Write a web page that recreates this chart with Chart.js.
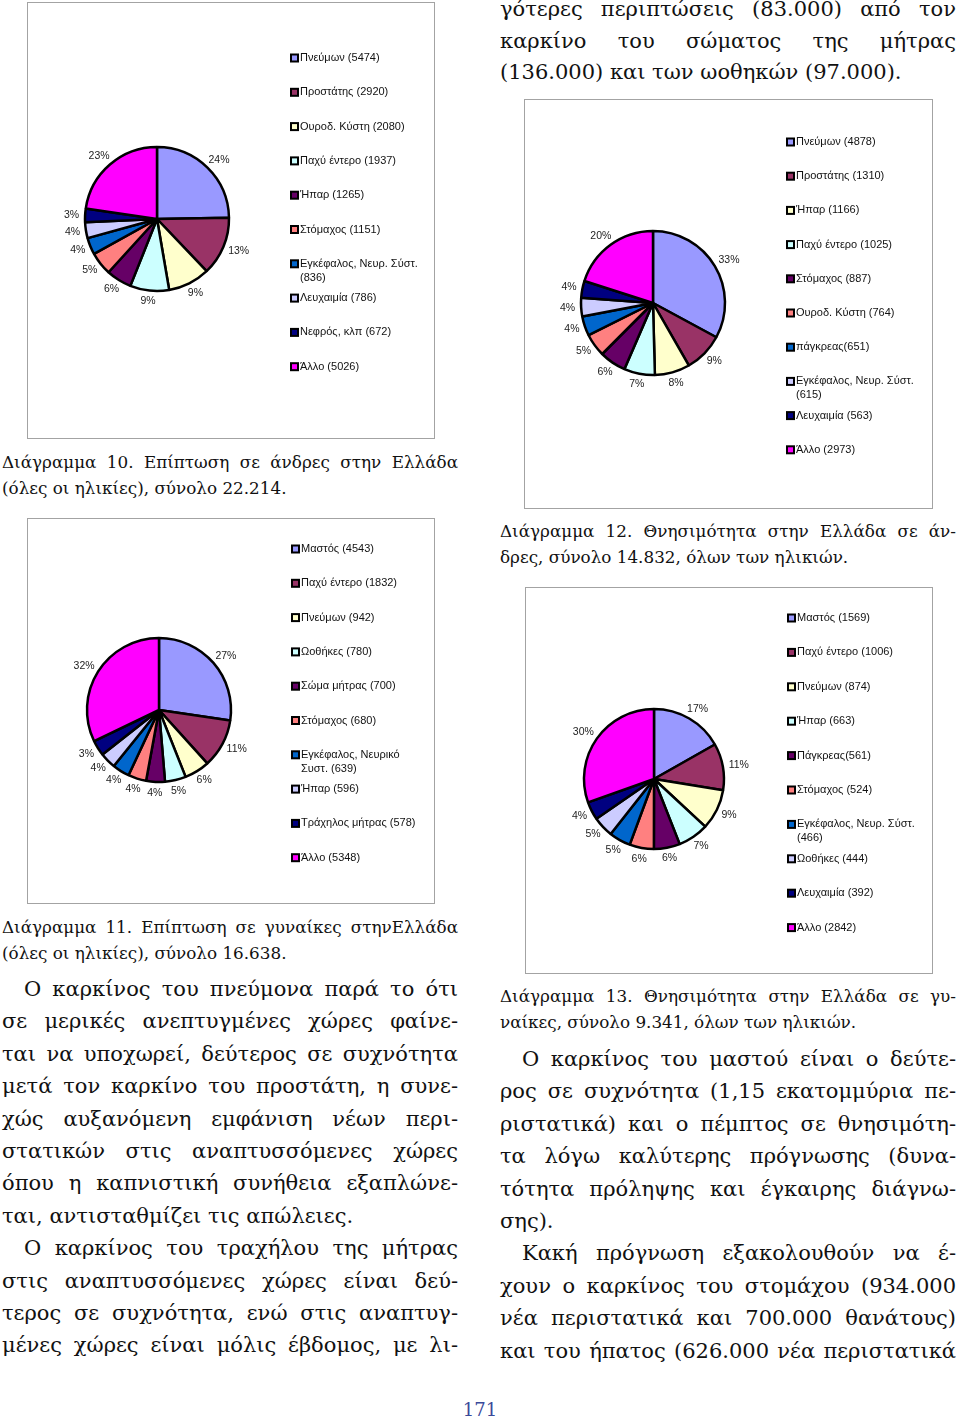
<!DOCTYPE html>
<html>
<head>
<meta charset="utf-8">
<script src="https://cdn.jsdelivr.net/npm/chart.js@4/dist/chart.umd.min.js"></script>
<style>
html, body { margin: 0; padding: 0; background: #fff; }
body { width: 960px; height: 1422px; position: relative; overflow: hidden; font-family: "DejaVu Serif", serif; color: #111; }
.frame { position: absolute; border: 1.5px solid #a3a3a3; box-sizing: border-box; }
canvas { position: absolute; }
.blk { position: absolute; }
.blk div { white-space: nowrap; }
.blk div.j { text-align: justify; text-align-last: justify; }
.txt { font-size: 21px; line-height: 32.4px; }
.cap { font-size: 16.8px; line-height: 26px; }
.ind { padding-left: 22px; }
.pg { position: absolute; left: 440px; width: 80px; top: 1398px; text-align: center; font-size: 18px; line-height: 24px; color: #3a4a9a; }
</style>
</head>
<body>

<div class="blk txt" style="left:500px;top:-6px;width:456px;line-height:31.6px">
  <div class="j">γότερες περιπτώσεις (83.000) από τον</div>
  <div class="j">καρκίνο του σώματος της μήτρας</div>
  <div>(136.000) και των ωοθηκών (97.000).</div>
</div>

<div class="frame" style="left:27px;top:2px;width:408px;height:437px"></div>
<canvas id="c1" style="left:27px;top:2px" width="407" height="436"></canvas>

<div class="frame" style="left:524px;top:99px;width:409px;height:410px"></div>
<canvas id="c2" style="left:524px;top:99px" width="408" height="409"></canvas>

<div class="blk cap" style="left:2px;top:449px;width:456px">
  <div class="j">Διάγραμμα 10. Επίπτωση σε άνδρες στην Ελλάδα</div>
  <div>(όλες οι ηλικίες), σύνολο 22.214.</div>
</div>

<div class="blk cap" style="left:500px;top:518px;width:456px">
  <div class="j">Διάγραμμα 12. Θνησιμότητα στην Ελλάδα σε άν-</div>
  <div>δρες, σύνολο 14.832, όλων των ηλικιών.</div>
</div>

<div class="frame" style="left:27px;top:518px;width:408px;height:386px"></div>
<canvas id="c3" style="left:27px;top:518px" width="407" height="385"></canvas>

<div class="frame" style="left:525px;top:587px;width:408px;height:387px"></div>
<canvas id="c4" style="left:525px;top:587px" width="407" height="386"></canvas>

<div class="blk cap" style="left:2px;top:914px;width:456px">
  <div class="j">Διάγραμμα 11. Επίπτωση σε γυναίκες στηνΕλλάδα</div>
  <div>(όλες οι ηλικίες), σύνολο 16.638.</div>
</div>

<div class="blk cap" style="left:500px;top:983px;width:456px">
  <div class="j">Διάγραμμα 13. Θνησιμότητα στην Ελλάδα σε γυ-</div>
  <div>ναίκες, σύνολο 9.341, όλων των ηλικιών.</div>
</div>

<div class="blk txt" style="left:2px;top:973px;width:456px">
  <div class="j ind">Ο καρκίνος του πνεύμονα παρά το ότι</div>
  <div class="j">σε μερικές ανεπτυγμένες χώρες φαίνε-</div>
  <div class="j">ται να υποχωρεί, δεύτερος σε συχνότητα</div>
  <div class="j">μετά τον καρκίνο του προστάτη, η συνε-</div>
  <div class="j">χώς αυξανόμενη εμφάνιση νέων περι-</div>
  <div class="j">στατικών στις αναπτυσσόμενες χώρες</div>
  <div class="j">όπου η καπνιστική συνήθεια εξαπλώνε-</div>
  <div>ται, αντισταθμίζει τις απώλειες.</div>
  <div class="j ind">Ο καρκίνος του τραχήλου της μήτρας</div>
  <div class="j">στις αναπτυσσόμενες χώρες είναι δεύ-</div>
  <div class="j">τερος σε συχνότητα, ενώ στις αναπτυγ-</div>
  <div class="j">μένες χώρες είναι μόλις έβδομος, με λι-</div>
</div>

<div class="blk txt" style="left:500px;top:1043px;width:456px">
  <div class="j ind">Ο καρκίνος του μαστού είναι ο δεύτε-</div>
  <div class="j">ρος σε συχνότητα (1,15 εκατομμύρια πε-</div>
  <div class="j">ριστατικά) και ο πέμπτος σε θνησιμότη-</div>
  <div class="j">τα λόγω καλύτερης πρόγνωσης (δυνα-</div>
  <div class="j">τότητα πρόληψης και έγκαιρης διάγνω-</div>
  <div>σης).</div>
  <div class="j ind">Κακή πρόγνωση εξακολουθούν να έ-</div>
  <div class="j">χουν ο καρκίνος του στομάχου (934.000</div>
  <div class="j">νέα περιστατικά και 700.000 θανάτους)</div>
  <div class="j">και του ήπατος (626.000 νέα περιστατικά</div>
</div>

<div class="pg">171</div>

<script>
// Excel-style slice colours, same order for every pie
const sliceColors = ['#9999FF', '#993366', '#FFFFCC', '#CCFFFF', '#660066', '#FF8080', '#0066CC', '#CCCCFF', '#000080', '#FF00FF'];

// Διάγραμμα 10 - incidence, men
const menIncLabels = ['Πνεύμων (5474)', 'Προστάτης (2920)', 'Ουροδ. Κύστη (2080)', 'Παχύ έντερο (1937)', 'Ήπαρ (1265)', 'Στόμαχος (1151)', ['Εγκέφαλος, Νευρ. Σύστ.', '(836)'], 'Λευχαιμία (786)', 'Νεφρός, κλπ (672)', 'Άλλο (5026)'];
const menIncValues = [5474, 2920, 2080, 1937, 1265, 1151, 836, 786, 672, 5026];
const menIncPct = ['24%', '13%', '9%', '9%', '6%', '5%', '4%', '4%', '3%', '23%'];

// Διάγραμμα 12 - mortality, men
const menMortLabels = ['Πνεύμων (4878)', 'Προστάτης (1310)', 'Ήπαρ (1166)', 'Παχύ έντερο (1025)', 'Στόμαχος (887)', 'Ουροδ. Κύστη (764)', 'πάγκρεας(651)', ['Εγκέφαλος, Νευρ. Σύστ.', '(615)'], 'Λευχαιμία (563)', 'Άλλο (2973)'];
const menMortValues = [4878, 1310, 1166, 1025, 887, 764, 651, 615, 563, 2973];
const menMortPct = ['33%', '9%', '8%', '7%', '6%', '5%', '4%', '4%', '4%', '20%'];

// Διάγραμμα 11 - incidence, women
const womIncLabels = ['Μαστός (4543)', 'Παχύ έντερο (1832)', 'Πνεύμων (942)', 'Ωοθήκες (780)', 'Σώμα μήτρας (700)', 'Στόμαχος (680)', ['Εγκέφαλος, Νευρικό', 'Συστ. (639)'], 'Ήπαρ (596)', 'Τράχηλος μήτρας (578)', 'Άλλο (5348)'];
const womIncValues = [4543, 1832, 942, 780, 700, 680, 639, 596, 578, 5348];
const womIncPct = ['27%', '11%', '6%', '5%', '4%', '4%', '4%', '4%', '3%', '32%'];

// Διάγραμμα 13 - mortality, women
const womMortLabels = ['Μαστός (1569)', 'Παχύ έντερο (1006)', 'Πνεύμων (874)', 'Ήπαρ (663)', 'Πάγκρεας(561)', 'Στόμαχος (524)', ['Εγκέφαλος, Νευρ. Σύστ.', '(466)'], 'Ωοθήκες (444)', 'Λευχαιμία (392)', 'Άλλο (2842)'];
const womMortValues = [1569, 1006, 874, 663, 561, 524, 466, 444, 392, 2842];
const womMortPct = ['17%', '11%', '9%', '7%', '6%', '6%', '5%', '5%', '4%', '30%'];

// percentage labels outside the slices + Excel-like legend on the right
const pieExtras = {
  id: 'pieExtras',
  afterDatasetsDraw(chart, args, opts) {
    const ctx = chart.ctx;
    const meta = chart.getDatasetMeta(0);
    const ds = chart.data.datasets[0];
    ctx.save();
    ctx.font = '10.5px "Liberation Sans", Arial, sans-serif';
    ctx.fillStyle = '#222';
    ctx.textAlign = 'center';
    ctx.textBaseline = 'middle';
    meta.data.forEach((arc, i) => {
      const p = arc.getProps(['x', 'y', 'startAngle', 'endAngle', 'outerRadius'], true);
      const mid = (p.startAngle + p.endAngle) / 2;
      const dx = Math.cos(mid), dy = Math.sin(mid);
      const t = opts.pct[i];
      const hw = ctx.measureText(t).width / 2;
      const r = p.outerRadius + 6;
      ctx.fillText(t, p.x + dx * r + dx * hw, p.y + dy * r + dy * 5);
    });

    const lg = opts.legend;
    ctx.font = '11px "Liberation Sans", Arial, sans-serif';
    ctx.textAlign = 'left';
    chart.data.labels.forEach((lab, i) => {
      const y = lg.y0 + i * lg.step;
      ctx.fillStyle = '#000';
      ctx.fillRect(lg.mx, y - 4.5, 9, 9);
      ctx.fillStyle = ds.backgroundColor[i];
      ctx.fillRect(lg.mx + 2, y - 2.5, 5, 5);
      ctx.fillStyle = '#111';
      const lines = Array.isArray(lab) ? lab : [lab];
      lines.forEach((ln, k) => ctx.fillText(ln, lg.tx, y + k * 14));
    });
    ctx.restore();
  }
};

function padFor(w, h, cx, cy) {
  return {
    left: Math.max(0, 2 * cx - w), right: Math.max(0, w - 2 * cx),
    top: Math.max(0, 2 * cy - h), bottom: Math.max(0, h - 2 * cy)
  };
}

function makePie(id, labels, values, pct, cx, cy, radius, legend) {
  const cv = document.getElementById(id);
  return new Chart(cv.getContext('2d'), {
    type: 'pie',
    data: {
      labels: labels,
      datasets: [{
        data: values,
        backgroundColor: sliceColors,
        borderColor: '#000000',
        borderWidth: 2.5,
        radius: radius,
        hoverOffset: 0
      }]
    },
    options: {
      responsive: false,
      animation: false,
      layout: { padding: padFor(cv.width, cv.height, cx, cy) },
      plugins: {
        legend: { display: false },
        tooltip: { enabled: false },
        pieExtras: { pct: pct, legend: legend }
      }
    },
    plugins: [pieExtras]
  });
}

makePie('c1', menIncLabels, menIncValues, menIncPct, 130, 217, 72, { mx: 263, tx: 273, y0: 56, step: 34.3 });
makePie('c2', menMortLabels, menMortValues, menMortPct, 129, 204, 72, { mx: 262, tx: 272, y0: 43, step: 34.2 });
makePie('c3', womIncLabels, womIncValues, womIncPct, 132, 192, 72, { mx: 264, tx: 274, y0: 31, step: 34.3 });
makePie('c4', womMortLabels, womMortValues, womMortPct, 129, 192, 70, { mx: 262, tx: 272, y0: 31, step: 34.4 });
</script>
</body>
</html>
